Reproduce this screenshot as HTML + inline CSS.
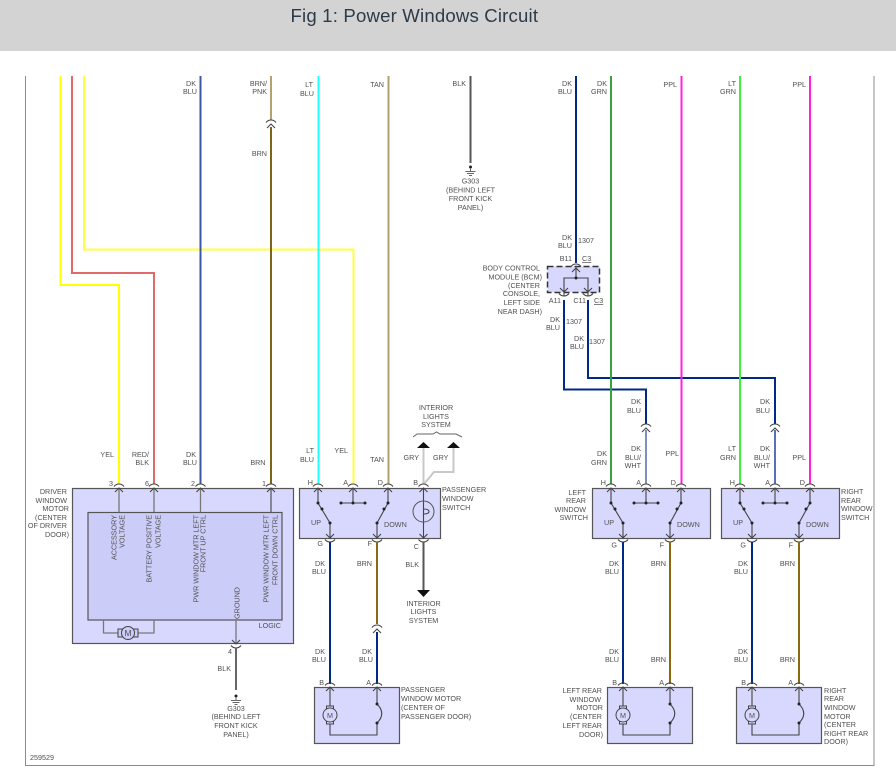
<!DOCTYPE html>
<html><head><meta charset="utf-8"><title>Fig 1: Power Windows Circuit</title>
<style>
html,body{margin:0;padding:0;background:#fff;width:896px;height:777px;overflow:hidden}
svg{display:block}
text{font-family:"Liberation Sans",Arial,sans-serif;font-size:7.2px;fill:#505050}
.r text,text.r{text-anchor:end}
.c text{text-anchor:middle}
.w{fill:none;stroke-width:2}
.s{fill:none;stroke:#444;stroke-width:1.1}
.g{fill:none;stroke:#777;stroke-width:1.3}
.b{fill:#d8d8ff;stroke:#555;stroke-width:1.2}
</style></head><body>
<svg width="896" height="777" viewBox="0 0 896 777" xmlns="http://www.w3.org/2000/svg">
<defs>
<g id="p"><path class="s" d="M-5,-1.5Q-3,-4 0,-4Q3,-4 5,-1.5M-4,4L0,0L4,4"/></g>
<g id="q"><path class="s" d="M-5,1.5Q-3,4 0,4Q3,4 5,1.5M-4,-4L0,0L4,-4"/></g>
<g id="d"><circle r="1.500" fill="#222"/></g>
<g id="gnd"><circle cx="0" cy="-1" r="1.500" fill="#222"/><path d="M0,0V4M-5,3.500H5M-3.500,5.500H3.500M-1.500,7.500H1.500" stroke="#666" stroke-width="1" fill="none"/></g>
<g id="sw">
<path class="s" d="M19,0V15L31,35V50M54,0V15M42,15H66M89,0V15L78,35V50"/>
<use href="#d" x="19" y="15"/><use href="#d" x="23" y="21"/><use href="#d" x="31" y="35"/>
<use href="#d" x="42" y="15"/><use href="#d" x="54" y="15"/><use href="#d" x="66" y="15"/>
<use href="#d" x="89" y="15"/><use href="#d" x="85" y="21"/><use href="#d" x="78" y="35"/>
<use href="#p" x="19" y="0"/><use href="#p" x="54" y="0"/><use href="#p" x="89" y="0"/>
<use href="#q" x="31" y="50"/><use href="#q" x="78" y="50"/>
</g>
<g id="mot">
<path class="s" d="M16,0V19M16,37V48H63V36M63,17V0M63,17Q72.500,26.500 63,36"/>
<rect x="12.500" y="19" width="7" height="18" fill="#d8d8ff" stroke="#444" stroke-width="1"/>
<circle cx="16" cy="28" r="7" fill="#d8d8ff" stroke="#444" stroke-width="1"/>
<use href="#d" x="63" y="17"/><use href="#d" x="63" y="36"/>
<use href="#p" x="16" y="0"/><use href="#p" x="63" y="0"/>
</g>
</defs>

<rect width="896" height="51" fill="#d3d3d3"/>
<text x="290.500" y="22" style="font-size:18.6px;fill:#2d3a48" textLength="247.500">Fig 1: Power Windows Circuit</text>
<path d="M25.500,76V765.500H874V76" fill="none" stroke="#8c8c8c" stroke-width="1"/>

<!-- horizontal wires behind -->
<path class="w" stroke="#002a85" stroke-width="1.8" d="M564,300V389.500H646V424M588,300V378H775V424"/>

<!-- wires -->
<path class="w" stroke="#ffff00" d="M60.500,76V285H119V484"/>
<path class="w" stroke="#e06a6a" d="M72,76V273H154V484"/>
<path class="w" stroke="#ffff40" d="M84,76V249.500H353.500V484"/>
<path class="w" stroke="#3f55a5" d="M200.500,76V484"/>
<path class="w" stroke="#b5a070" d="M271,76V120"/>
<path class="w" stroke="#806418" d="M271,127V484"/>
<path class="w" stroke="#20ffff" d="M318.500,76V484"/>
<path class="w" stroke="#b0a070" d="M388.500,76V484"/>
<path class="w" stroke="#555" d="M470.500,76V163"/>
<path class="w" stroke="#002a85" d="M576,76V263"/>
<path class="w" stroke="#3aa040" d="M611,76V484"/>
<path class="w" stroke="#ff20e0" d="M681.500,76V484"/>
<path class="w" stroke="#40f040" d="M740,76V484"/>
<path class="w" stroke="#ff20e0" d="M810,76V484"/>
<path class="w" stroke="#7f8fc0" d="M646,430V484"/>
<path class="w" stroke="#5a70b5" d="M775,430V484"/>
<path class="w" stroke="#c8c8c8" d="M423.500,448V484M453.500,448V472H434L424,484"/>

<use href="#p" x="271" y="124"/>
<use href="#p" x="646" y="428"/>
<use href="#p" x="775" y="428"/>
<use href="#gnd" x="470.500" y="168"/>

<!-- driver box -->
<rect class="b" x="72.500" y="488.500" width="221" height="155"/>
<rect x="88" y="512.500" width="194" height="107.500" fill="#ccccf8" stroke="#555" stroke-width="1.2"/>
<path class="g" d="M119,488V512M154,488V512M200.500,488V512"/>
<path class="s" d="M271,488V512"/>
<path class="g" d="M103.500,620V633H118M154,620V633H138M236,620V644"/>
<rect x="118" y="629" width="20" height="8" fill="#ccccf8" stroke="#444" stroke-width="1"/>
<circle cx="128" cy="633" r="6.500" fill="#ccccf8" stroke="#444" stroke-width="1"/>
<text x="128" y="636" style="font-size:8.500px;text-anchor:middle">M</text>
<use href="#p" x="119" y="488"/><use href="#p" x="154" y="488"/><use href="#p" x="200.500" y="488"/><use href="#p" x="271" y="488"/>
<use href="#q" x="236" y="644"/>
<path class="w" stroke="#666" d="M236,648V690"/>
<use href="#gnd" x="236" y="697"/>

<!-- passenger switch -->
<rect class="b" x="299.500" y="488.500" width="141" height="50"/>
<use href="#sw" x="299" y="488"/>
<path class="s" d="M423.500,488V538M423.500,500V522M423.500,509Q429,509 429,511.500Q429,514 423.500,514"/>
<circle cx="423.500" cy="511.500" r="10.500" fill="none" stroke="#555" stroke-width="1"/>
<use href="#p" x="423.500" y="488"/><use href="#q" x="423.500" y="538"/>
<path class="w" stroke="#002a85" d="M330,542V684"/>
<path class="w" stroke="#8a6a10" d="M377,542V624"/>
<path class="w" stroke="#002a85" d="M377,632V684"/>
<use href="#p" x="377" y="629"/>
<path class="w" stroke="#555" d="M423.500,542V590"/>
<path d="M417,590H430L423.500,597Z" fill="#111"/>
<path d="M417,448H430L423.500,442Z M447,448H460L453.500,442Z" fill="#111"/>
<path d="M413,437L417,434H433L436.500,432L440,434H456L462,437" fill="none" stroke="#666" stroke-width="1"/>

<!-- rear switches -->
<rect class="b" x="592.500" y="488.500" width="118" height="50"/>
<use href="#sw" x="592" y="488"/>
<rect class="b" x="721.500" y="488.500" width="118" height="50"/>
<use href="#sw" x="721" y="488"/>
<path class="w" stroke="#002a85" d="M623,542V684"/>
<path class="w" stroke="#8a6a10" d="M670,542V684"/>
<path class="w" stroke="#002a85" d="M752,542V684"/>
<path class="w" stroke="#8a6a10" d="M799,542V684"/>

<!-- motors -->
<rect class="b" x="314.500" y="687.500" width="85" height="56"/>
<use href="#mot" x="314" y="687"/>
<rect class="b" x="607.500" y="687.500" width="85" height="56"/>
<use href="#mot" x="607" y="687"/>
<rect class="b" x="736.500" y="687.500" width="85" height="56"/>
<use href="#mot" x="736" y="687"/>
<text x="330" y="718" text-anchor="middle">M</text>
<text x="623" y="718" text-anchor="middle">M</text>
<text x="752" y="718" text-anchor="middle">M</text>

<!-- BCM -->
<rect x="547.500" y="266.500" width="52" height="26" fill="#d8d8ff" stroke="#333" stroke-width="1.500" stroke-dasharray="6 3"/>
<path class="s" d="M576,266V278M564,296V278H588V296"/>
<use href="#d" x="576" y="278"/>
<use href="#p" x="576" y="268"/>
<use href="#q" x="564" y="292"/><use href="#q" x="588" y="292"/>

<!-- labels -->
<g class="r">
<text x="114" y="457">YEL</text>
<text x="149" y="457">RED/</text><text x="149" y="465">BLK</text>
<text x="196" y="457">DK</text><text x="197" y="465">BLU</text>
<text x="265.500" y="465">BRN</text>
<text x="113" y="486">3</text><text x="149" y="486">6</text><text x="195" y="486">2</text><text x="266" y="486">1</text>
<text x="67" y="494">DRIVER</text><text x="67" y="503">WINDOW</text><text x="69" y="511">MOTOR</text><text x="67" y="520">(CENTER</text><text x="67" y="528">OF DRIVER</text><text x="69" y="537">DOOR)</text>
<text x="232" y="654">4</text><text x="231" y="671">BLK</text>
<text transform="translate(116.500,515) rotate(-90)">ACCESSORY</text>
<text transform="translate(124.500,515) rotate(-90)">VOLTAGE</text>
<text transform="translate(151.500,515) rotate(-90)">BATTERY POSITIVE</text>
<text transform="translate(160.500,515) rotate(-90)">VOLTAGE</text>
<text transform="translate(198.500,515) rotate(-90)">PWR WINDOW MTR LEFT</text>
<text transform="translate(205.500,515) rotate(-90)">FRONT UP CTRL</text>
<text transform="translate(268.500,515) rotate(-90)">PWR WINDOW MTR LEFT</text>
<text transform="translate(277.500,515) rotate(-90)">FRONT DOWN CTRL</text>
<text transform="translate(239.500,587) rotate(-90)">GROUND</text>
<text x="281" y="628">LOGIC</text>

<text x="196" y="86">DK</text><text x="197" y="94">BLU</text>
<text x="267" y="86">BRN/</text><text x="267" y="94">PNK</text><text x="267" y="156">BRN</text>
<text x="313" y="87">LT</text><text x="314" y="96">BLU</text>
<text x="384" y="87">TAN</text>
<text x="466" y="86">BLK</text>
<text x="572" y="86">DK</text><text x="572" y="94">BLU</text>
<text x="607" y="86">DK</text><text x="607" y="94">GRN</text>
<text x="677" y="87">PPL</text>
<text x="736" y="86">LT</text><text x="736" y="94">GRN</text>
<text x="806" y="87">PPL</text>

<text x="572" y="240">DK</text><text x="572" y="248">BLU</text><text x="572" y="261">B11</text>
<text x="540" y="270.500">BODY CONTROL</text><text x="542" y="279.500">MODULE (BCM)</text><text x="540" y="288">(CENTER</text><text x="540" y="296">CONSOLE,</text><text x="540" y="305">LEFT SIDE</text><text x="542" y="314">NEAR DASH)</text>
<text x="561" y="303">A11</text><text x="586" y="303">C11</text>
<text x="560" y="322">DK</text><text x="560" y="330">BLU</text>
<text x="584" y="341">DK</text><text x="584" y="349">BLU</text>

<text x="314" y="453">LT</text><text x="314" y="462">BLU</text>
<text x="348" y="453">YEL</text><text x="384" y="462">TAN</text><text x="419" y="460">GRY</text>
<text x="313" y="485">H</text><text x="348" y="485">A</text><text x="383" y="485">D</text><text x="418" y="485">B</text>
<text x="323" y="546">G</text><text x="372" y="546">F</text><text x="419" y="549">C</text>
<text x="325" y="566">DK</text><text x="326" y="574">BLU</text><text x="372" y="566">BRN</text><text x="419" y="567">BLK</text>
<text x="325" y="654">DK</text><text x="326" y="662">BLU</text><text x="372" y="654">DK</text><text x="373" y="662">BLU</text>
<text x="324" y="685">B</text><text x="371" y="685">A</text>

<text x="641" y="404">DK</text><text x="641" y="413">BLU</text>
<text x="770" y="404">DK</text><text x="770" y="413">BLU</text>
<text x="607" y="456">DK</text><text x="607" y="465">GRN</text>
<text x="641" y="451">DK</text><text x="641" y="460">BLU/</text><text x="641" y="468">WHT</text>
<text x="679" y="456">PPL</text>
<text x="736" y="451">LT</text><text x="736" y="460">GRN</text>
<text x="770" y="451">DK</text><text x="770" y="460">BLU/</text><text x="770" y="468">WHT</text>
<text x="806" y="460">PPL</text>
<text x="606" y="485">H</text><text x="641" y="485">A</text><text x="676" y="485">D</text>
<text x="735" y="485">H</text><text x="770" y="485">A</text><text x="805" y="485">D</text>
<text x="586" y="495">LEFT</text><text x="586" y="503">REAR</text><text x="586" y="512">WINDOW</text><text x="588" y="520">SWITCH</text>
<text x="617" y="547.500">G</text><text x="664" y="547.500">F</text><text x="746" y="547.500">G</text><text x="793" y="547.500">F</text>
<text x="619" y="566">DK</text><text x="619" y="574">BLU</text><text x="666" y="566">BRN</text>
<text x="748" y="566">DK</text><text x="748" y="574">BLU</text><text x="795" y="566">BRN</text>
<text x="619" y="654">DK</text><text x="619" y="662">BLU</text><text x="666" y="662">BRN</text>
<text x="748" y="654">DK</text><text x="748" y="662">BLU</text><text x="795" y="662">BRN</text>
<text x="617" y="685">B</text><text x="664" y="685">A</text><text x="746" y="685">B</text><text x="793" y="685">A</text>
<text x="602" y="693">LEFT REAR</text><text x="601" y="702">WINDOW</text><text x="603" y="710">MOTOR</text><text x="602" y="719">(CENTER</text><text x="602" y="728">LEFT REAR</text><text x="603" y="737">DOOR)</text>
</g>

<g class="c">
<text x="236" y="711">G303</text><text x="236" y="719">(BEHIND LEFT</text><text x="236" y="728">FRONT KICK</text><text x="236" y="737">PANEL)</text>
<text x="470.500" y="183.500">G303</text><text x="470.500" y="192.500">(BEHIND LEFT</text><text x="470.500" y="201">FRONT KICK</text><text x="470.500" y="210">PANEL)</text>
<text x="436" y="410">INTERIOR</text><text x="436" y="419">LIGHTS</text><text x="436" y="427">SYSTEM</text>
<text x="423.500" y="606">INTERIOR</text><text x="423.500" y="614">LIGHTS</text><text x="423.500" y="623">SYSTEM</text>
</g>

<text x="433" y="460">GRY</text>
<text x="442" y="492">PASSENGER</text><text x="442" y="501">WINDOW</text><text x="442" y="510">SWITCH</text>
<text x="311" y="525">UP</text><text x="384" y="527">DOWN</text>
<text x="604" y="525">UP</text><text x="677" y="527">DOWN</text>
<text x="733" y="525">UP</text><text x="806" y="527">DOWN</text>
<text x="841" y="494">RIGHT</text><text x="841" y="503">REAR</text><text x="841" y="511">WINDOW</text><text x="841" y="520">SWITCH</text>
<text x="401" y="692">PASSENGER</text><text x="401" y="701">WINDOW MOTOR</text><text x="401" y="710">(CENTER OF</text><text x="401" y="719">PASSENGER DOOR)</text>
<text x="824" y="693">RIGHT</text><text x="824" y="701">REAR</text><text x="824" y="710">WINDOW</text><text x="824" y="719">MOTOR</text><text x="824" y="727">(CENTER</text><text x="824" y="736">RIGHT REAR</text><text x="824" y="744">DOOR)</text>
<text x="578" y="243">1307</text><text x="566" y="324">1307</text><text x="589" y="344">1307</text>
<text x="582" y="261" text-decoration="underline">C3</text><text x="594" y="303" text-decoration="underline">C3</text>
<text x="30" y="760">259529</text>
</svg>
</body></html>
